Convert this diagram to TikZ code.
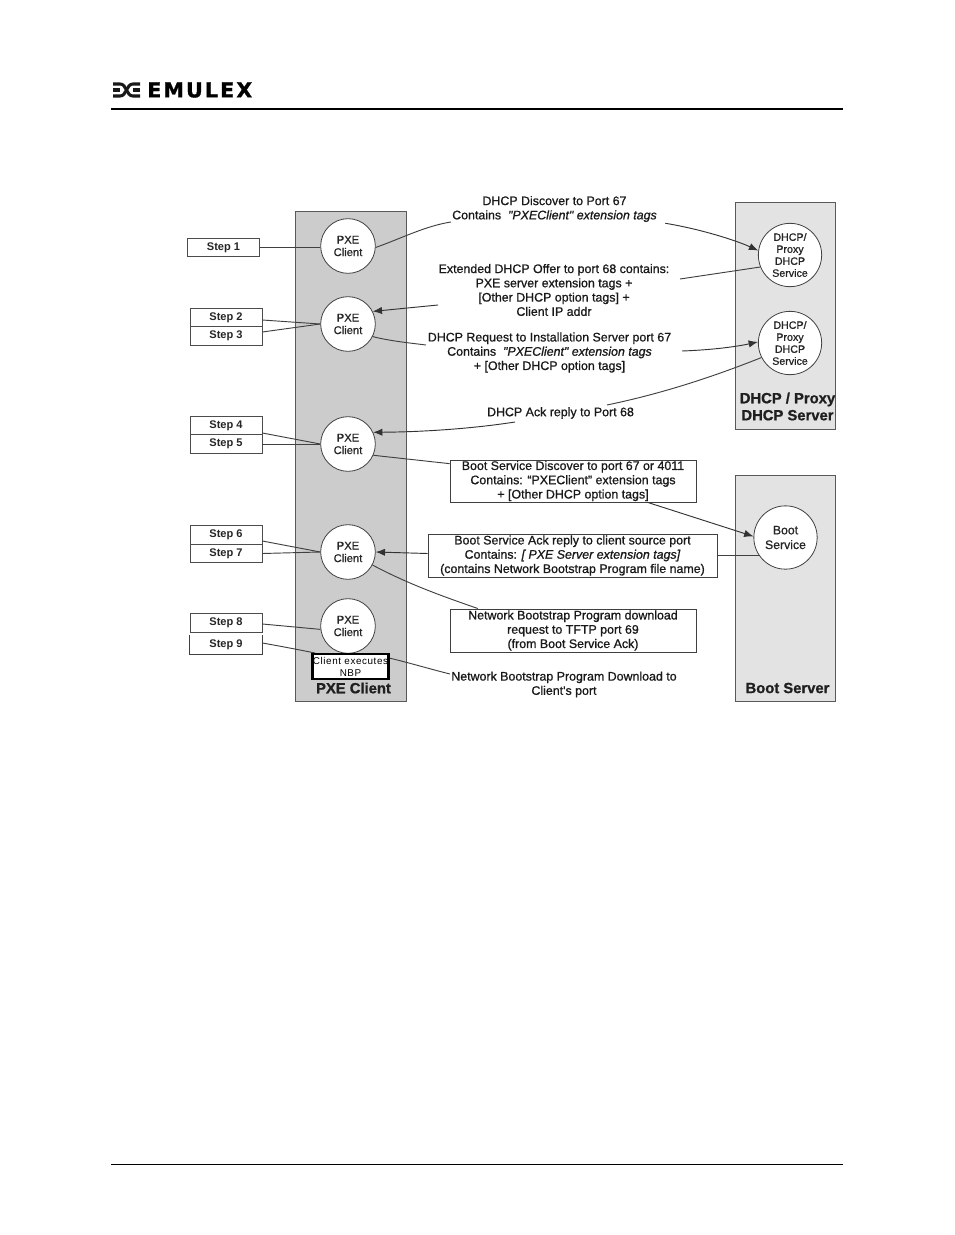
\documentclass[tikz,border=0pt]{standalone}
\usepackage{fontspec}
\setmainfont{Liberation Sans}
\newfontfamily\labelfont[FakeBold=0.9]{Liberation Sans}
\newfontfamily\logofont[FakeBold=1]{DejaVu Sans}
\usepackage{tikz}
\usetikzlibrary{shapes.geometric, arrows.meta, positioning, calc}

\begin{document}
\begin{tikzpicture}[
    x=0.75pt, y=-0.75pt,
    panel/.style={rectangle, draw=black!65, line width=0.7pt, inner sep=0pt},
    pxecircle/.style={circle, draw=black!75, fill=white, line width=0.6pt, minimum size=41pt, inner sep=0pt, align=center, font=\labelfont\fontsize{8.4}{9.4}\selectfont, text=black!85},
    srvcircle/.style={circle, draw=black!75, fill=white, line width=0.6pt, minimum size=47.5pt, inner sep=0pt, align=center, font=\labelfont\fontsize{8}{9}\selectfont, text=black!85},
    stepbox/.style={rectangle, draw=black!70, fill=white, line width=0.6pt, minimum width=54pt, minimum height=13.7pt, inner sep=0pt, font=\bfseries\fontsize{8.3}{9}\selectfont, text=black!85},
    msgbox/.style={rectangle, draw=black!75, fill=white, line width=0.7pt, inner sep=0pt, align=center, font=\labelfont\fontsize{9.3}{10.7}\selectfont, text=black!90},
    msgtext/.style={inner sep=0pt, align=center, font=\labelfont\fontsize{9.3}{10.7}\selectfont, text=black!90},
    paneltitle/.style={inner sep=0pt, align=center, font=\labelfont\bfseries\fontsize{11.1}{12.8}\selectfont, text=black!88},
    arrow/.style={-{Latex[length=7pt,width=5.5pt]}, line width=0.7pt, draw=black!80},
    line/.style={line width=0.7pt, draw=black!75}
]
\useasboundingbox (0,0) rectangle (954,1235);

% Page header and footer
\node (logotext) [anchor=west, inner sep=0pt, font=\logofont\bfseries\fontsize{15.5}{17}\selectfont] at (147,90) {\addfontfeature{LetterSpace=10}EMULEX};
\draw [line width=2.3pt, black!90] (113,84) -- (120,84) .. controls (127,84) and (126,96) .. (133,96) -- (140,96);
\draw [line width=2.3pt, black!90] (113,96) -- (120,96) .. controls (127,96) and (126,84) .. (133,84) -- (140,84);
\draw [line width=2.3pt, black!90] (113,90) -- (120,90) (133,90) -- (140,90);
\draw [line width=1.5pt, black] (111,109) -- (843,109);
\draw [line width=0.75pt, black] (111,1164) -- (843,1164);

% Panels
\node (pxepanel) [panel, fill=black!20, minimum width=83.25pt, minimum height=367.5pt] at (350.5,456) {};
\node (dhcppanel) [panel, fill=black!11, minimum width=75pt, minimum height=170.25pt] at (785,315.5) {};
\node (bootpanel) [panel, fill=black!11, minimum width=75pt, minimum height=169.5pt] at (785,588) {};

% Circles
\node (pxea) [pxecircle] at (348,246) {PXE\\Client};
\node (pxeb) [pxecircle] at (348,324) {PXE\\Client};
\node (pxec) [pxecircle] at (348,444) {PXE\\Client};
\node (pxed) [pxecircle] at (348,552) {PXE\\Client};
\node (pxee) [pxecircle] at (348,626) {PXE\\Client};
\node (dhcpa) [srvcircle] at (790,255) {DHCP/\\Proxy\\DHCP\\Service};
\node (dhcpb) [srvcircle] at (790,343) {DHCP/\\Proxy\\DHCP\\Service};
\node (bootsrv) [srvcircle, font=\labelfont\fontsize{9.2}{11}\selectfont] at (785.5,537.5) {Boot\\Service};

% Steps
\node (stepa) [stepbox] at (223.5,247.5) {Step 1};
\node (stepb) [stepbox] at (226,318) {Step 2};
\node (stepc) [stepbox] at (226,336) {Step 3};
\node (stepd) [stepbox] at (226,426) {Step 4};
\node (stepe) [stepbox] at (226,444) {Step 5};
\node (stepf) [stepbox] at (226,535) {Step 6};
\node (stepg) [stepbox] at (226,553.5) {Step 7};
\node (steph) [stepbox] at (226,623) {Step 8};
\node (stepi) [stepbox, draw=none, fill=none] at (226,645) {Step 9};
\draw [line] (stepi.north west) -- (stepi.south west) -- (stepi.south east) -- (stepi.north east);

% Messages
\node (discover) [msgtext, minimum width=165.75pt, minimum height=21pt] at (554.5,209) {DHCP Discover to Port 67\\Contains\ \ \textit{"PXEClient" extension tags}};
\node (offer) [msgtext, minimum width=174pt, minimum height=40pt] at (554,290) {Extended DHCP Offer to port 68 contains:\\PXE server extension tags +\\{}[Other DHCP option tags] +\\Client IP addr};
\node (request) [msgtext, minimum width=181pt, minimum height=31pt] at (549.5,352.5) {DHCP Request to Installation Server port 67\\Contains\ \ \textit{"PXEClient" extension tags}\\+ [Other DHCP option tags]};
\node (ackmsg) [msgtext] at (560.5,413) {DHCP Ack reply to Port 68};
\node (bootdisc) [msgbox, minimum width=184.5pt, minimum height=31.5pt] at (573,481) {Boot Service Discover to port 67 or 4011\\Contains: “PXEClient” extension tags\\+ [Other DHCP option tags]};
\node (bootack) [msgbox, minimum width=216.75pt, minimum height=32.25pt] at (572.5,555.5) {Boot Service Ack reply to client source port\\Contains: \textit{[ PXE Server extension tags]}\\(contains Network Bootstrap Program file name)};
\node (nbpreq) [msgbox, minimum width=184.5pt, minimum height=32.25pt] at (573,630.5) {Network Bootstrap Program download\\request to TFTP port 69\\(from Boot Service Ack)};
\node (nbpdl) [msgtext, minimum width=171pt] at (564,684.5) {Network Bootstrap Program Download to\\Client's port};

% Free ends of the arrows at the text
\coordinate (discin) at (451,222);
\coordinate (offerout) at (680,279);
\coordinate (offerin) at (438,305);
\coordinate (reqin) at (426,345);
\coordinate (reqout) at (682,351);
\coordinate (ackout) at (607,405);
\coordinate (ackin) at (515,422);
\coordinate (nbpin) at (450,674);

% Step lines
\draw [line] (stepa.east) -- (pxea.west |- stepa.east);
\draw [line] (stepb.east) ++(0,2) -- (pxeb.west);
\draw [line] (stepc.east) ++(0,-4) -- (pxeb.west);
\draw [line] (stepd.east) ++(0,7) -- (pxec.west);
\draw [line] (stepe.east) -- (pxec.west);
\draw [line] (stepf.east) ++(0,6) -- (pxed.west);
\draw [line] (stepg.east) -- (pxed.west);
\draw [line] (steph.east) ++(0,1) -- (pxee.187);
\draw [line] (stepi.east) ++(0,-2) .. controls (285,647) and (300,650) .. (315,653);

% Arrows
\draw [line] (pxea.-3) .. controls (400,239) and (425,226) .. (discin);
\draw [arrow] (discover.south east) .. controls (700,229) and (735,240) .. (dhcpa.172);
\draw [line] (dhcpa.-158) -- (offerout);
\draw [arrow] (offerin) -- (pxeb.27);
\draw [line] (pxeb.-27) .. controls (390,341) and (410,343) .. (reqin);
\draw [arrow] (reqout) .. controls (710,350) and (735,347) .. (dhcpb.178);
\draw [line] (dhcpb.-153) .. controls (710,378) and (660,394) .. (ackout);
\draw [arrow] (ackin) .. controls (470,429) and (420,432) .. (pxec.25);
\draw [line] (pxec.-24) -- (bootdisc.172.6);
\draw [arrow] (bootdisc.-16.7) -- (bootsrv.178);
\draw [line] (bootsrv.-147) -- (bootack.east |- bootsrv.-147);
\draw [arrow] (bootack.west) ++(0,-2) -- (pxed.east);
\draw [line] (pxed.-28) .. controls (410,585) and (445,597) .. (nbpreq.167.4);

% Box over the panel
\node (nbprun) [rectangle, draw=black, fill=white, line width=1.9pt, minimum width=57pt, minimum height=19pt, inner sep=0pt, align=center, font=\fontsize{7.4}{9}\selectfont\addfontfeature{LetterSpace=6}] at (350.5,666.5) {Client executes\\NBP};
\draw [line] (nbprun.12) .. controls (410,663) and (430,669) .. (nbpin);

% Panel titles
\node (pxetitle) [paneltitle] at (353.5,688) {PXE Client};
\node (boottitle) [paneltitle] at (787.5,688) {Boot Server};
\node (dhcptitle) [paneltitle] at (787.5,406.5) {DHCP / Proxy\\DHCP Server};
\end{tikzpicture}
\end{document}
